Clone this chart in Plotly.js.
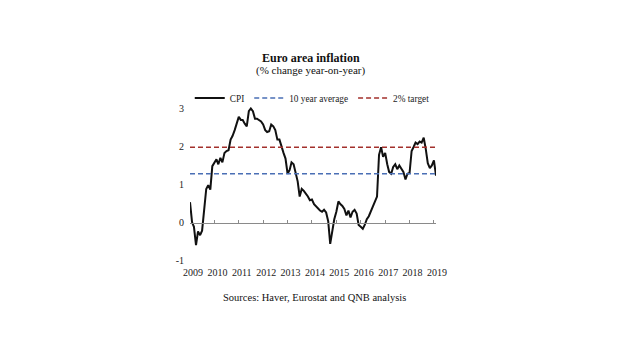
<!DOCTYPE html>
<html>
<head>
<meta charset="utf-8">
<script src="https://cdn.plot.ly/plotly-3.0.1.min.js"></script>
<style>html,body{margin:0;padding:0;background:#fff;}#chart{width:620px;height:355px;}</style>
</head>
<body>
<div id="chart"></div>
<script>
// Monthly CPI (% y/y) as drawn, Jan..Dec of each chart year
const cpi2009 = [0.55, 0.02, -0.1, -0.58, -0.22, -0.32, -0.2, 0.4, 0.9, 1.0, 0.88, 1.5];
const cpi2010 = [1.6, 1.68, 1.55, 1.72, 1.6, 1.85, 1.9, 1.92, 2.2, 2.3, 2.45, 2.65];
const cpi2011 = [2.8, 2.72, 2.72, 2.62, 2.55, 2.95, 3.02, 2.95, 2.75, 2.75, 2.72, 2.68];
const cpi2012 = [2.6, 2.45, 2.4, 2.42, 2.6, 2.55, 2.45, 2.2, 2.2, 2.0, 1.85, 1.7];
const cpi2013 = [1.3, 1.4, 1.6, 1.55, 1.3, 1.1, 0.7, 0.9, 0.85, 0.78, 0.7, 0.6];
const cpi2014 = [0.62, 0.5, 0.45, 0.38, 0.33, 0.3, 0.35, 0.28, 0.05, -0.55, -0.2, 0.1];
const cpi2015 = [0.3, 0.57, 0.5, 0.45, 0.37, 0.2, 0.33, 0.15, 0.3, 0.35, 0.25, -0.05];
const cpi2016 = [-0.1, -0.15, -0.05, 0.1, 0.18, 0.3, 0.45, 0.55, 0.7, 1.8, 2.0, 1.75];
const cpi2017 = [1.85, 1.55, 1.35, 1.3, 1.48, 1.55, 1.42, 1.52, 1.42, 1.35, 1.15, 1.3];
const cpi2018 = [1.32, 1.9, 2.0, 2.12, 2.08, 2.15, 2.12, 2.25, 1.95, 1.58, 1.45, 1.52];
const cpi2019 = [1.65, 1.25];

const tenYearAverage = 1.3;
const target = 2.0;

const yearLabels = ['2009','2010','2011','2012','2013','2014','2015','2016','2017','2018','2019'];
const yTicks = [-1, 0, 1, 2, 3];

const cpiByYear = [cpi2009, cpi2010, cpi2011, cpi2012, cpi2013, cpi2014, cpi2015, cpi2016, cpi2017, cpi2018, cpi2019];
const dates = [], cpi = [];
cpiByYear.forEach((arr, i) => {
  arr.forEach((v, m) => {
    dates.push(yearLabels[i] + '-' + String(m + 1).padStart(2, '0') + '-01');
    cpi.push(v);
  });
});
const first = dates[0], last = dates[dates.length - 1];
const yearTickVals = yearLabels.map(y => y + '-01-01');

const font = 'Liberation Serif, Times New Roman, serif';

const traces = [
  {x: dates, y: cpi, type: 'scatter', mode: 'lines', name: 'CPI',
   line: {color: '#111111', width: 2}},
  {x: [first, last], y: [tenYearAverage, tenYearAverage], type: 'scatter', mode: 'lines',
   name: '10 year average', line: {color: '#4a6fb5', width: 1.6, dash: '5px,3px'}},
  {x: [first, last], y: [target, target], type: 'scatter', mode: 'lines', xaxis: 'x2',
   name: '2% target', line: {color: '#a3302c', width: 1.6, dash: '5px,3px'}}
];

const layout = {
  width: 620, height: 355,
  margin: {l: 190, r: 184, t: 107, b: 94, autoexpand: false},
  paper_bgcolor: '#ffffff', plot_bgcolor: '#ffffff',
  font: {family: font, size: 10, color: '#222222'},
  showlegend: true,
  legend: {orientation: 'h', x: -0.001, xanchor: 'left',
           y: 1.058, yanchor: 'middle',
           font: {family: font, size: 9.3, color: '#222222'}, bgcolor: 'rgba(0,0,0,0)',
           traceorder: 'normal', itemwidth: 30},
  xaxis: {type: 'date', range: [first, last], tickmode: 'array',
          tickvals: yearTickVals, ticktext: yearLabels,
          showgrid: false, zeroline: false, showline: false, ticks: '',
          ticklabelshift: 3, ticklabelstandoff: 4,
          tickfont: {family: font, size: 10, color: '#222222'}},
  xaxis2: {type: 'date', range: [first, last], overlaying: 'x', anchor: 'free', position: 0.25,
           side: 'bottom', tickmode: 'array', tickvals: yearTickVals.slice(1),
           showticklabels: false, ticks: 'inside', ticklen: 3, tickwidth: 1, tickcolor: '#8a8a8a',
           showline: true, linecolor: '#8a8a8a', linewidth: 1, showgrid: false, zeroline: false},
  yaxis: {range: [-1, 3.06], tickmode: 'array', tickvals: yTicks, ticktext: yTicks.map(String),
          showgrid: false, zeroline: false, showline: false, ticks: '',
          ticklabelstandoff: 5, ticklabelshift: -1,
          tickfont: {family: font, size: 10, color: '#222222'}},
  annotations: [
    {text: '<b>Euro area inflation</b>', xref: 'paper', yref: 'paper', x: 0.49, y: 1.318,
     xanchor: 'center', yanchor: 'middle', showarrow: false,
     font: {family: font, size: 12, color: '#111111'}},
    {text: '(% change year-on-year)', xref: 'paper', yref: 'paper', x: 0.49, y: 1.237,
     xanchor: 'center', yanchor: 'middle', showarrow: false,
     font: {family: font, size: 11, color: '#111111'}},
    {text: 'Sources: Haver, Eurostat and QNB analysis', xref: 'paper', yref: 'paper', x: 0.508, y: -0.234,
     xanchor: 'center', yanchor: 'middle', showarrow: false,
     font: {family: font, size: 10.5, color: '#111111'}}
  ]
};

Plotly.newPlot('chart', traces, layout, {displayModeBar: false, staticPlot: true});
</script>
</body>
</html>
